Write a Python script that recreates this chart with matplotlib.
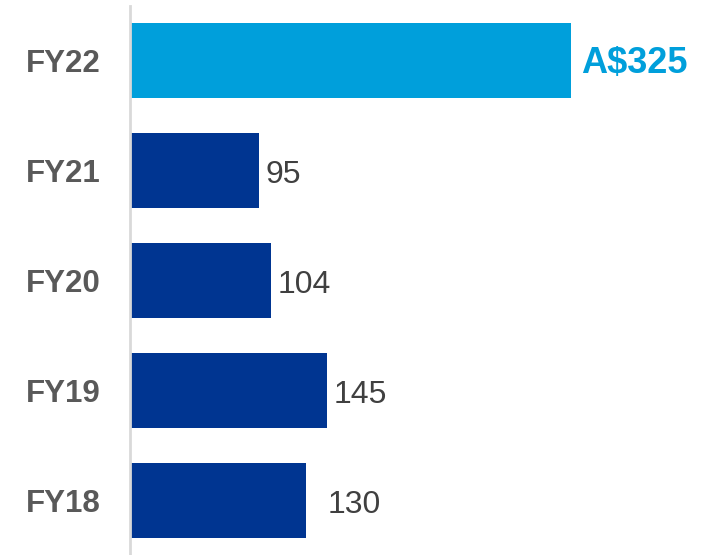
import matplotlib
matplotlib.use("Agg")
import matplotlib.pyplot as plt

plt.rcParams['font.family'] = ['Liberation Sans', 'DejaVu Sans']

# Fiscal years, bottom to top
years = ["FY18", "FY19", "FY20", "FY21", "FY22"]
values = [130, 145, 104, 95, 325]
value_labels = ["130", "145", "104", "95", "A$325"]

W, H = 720, 555
fig = plt.figure(figsize=(W / 100, H / 100), dpi=100)
ax = fig.add_axes([130 / W, 0, 590 / W, 1])

dark = "#003591"
light = "#009FDB"
colors = [dark] * 4 + [light]

ypos = list(range(len(years)))
ax.barh(ypos, values, height=0.68, color=colors, left=0)

ymin = -54.5 / 110
ymax = ymin + H / 110
ax.set_ylim(ymin, ymax)
ax.set_xlim(0, 325 * 590 / 441)

for s in ["top", "right", "bottom"]:
    ax.spines[s].set_visible(False)
ax.spines["left"].set_color("#D9D9D9")
ax.spines["left"].set_linewidth(2)
ax.spines["left"].set_bounds(ymin, ymax - 6 / 110)

ax.set_xticks([])
ax.set_yticks(ypos)
ax.set_yticklabels(years, fontsize=22.5, fontweight="bold", color="#595959")
ax.tick_params(axis="y", length=0, pad=21)

for i, (v, lab) in enumerate(zip(values, value_labels)):
    if i == len(values) - 1:
        ax.annotate(lab, (v, i), xytext=(7, -2), textcoords="offset points",
                    ha="left", va="center", fontsize=26, fontweight="bold",
                    color=light)
    else:
        extra = 10 if years[i] == "FY18" else 0
        ax.annotate(lab, (v, i), xytext=(5 + extra, -3), textcoords="offset points",
                    ha="left", va="center", fontsize=23, color="#404040")

fig.savefig("out.png", dpi=100)
